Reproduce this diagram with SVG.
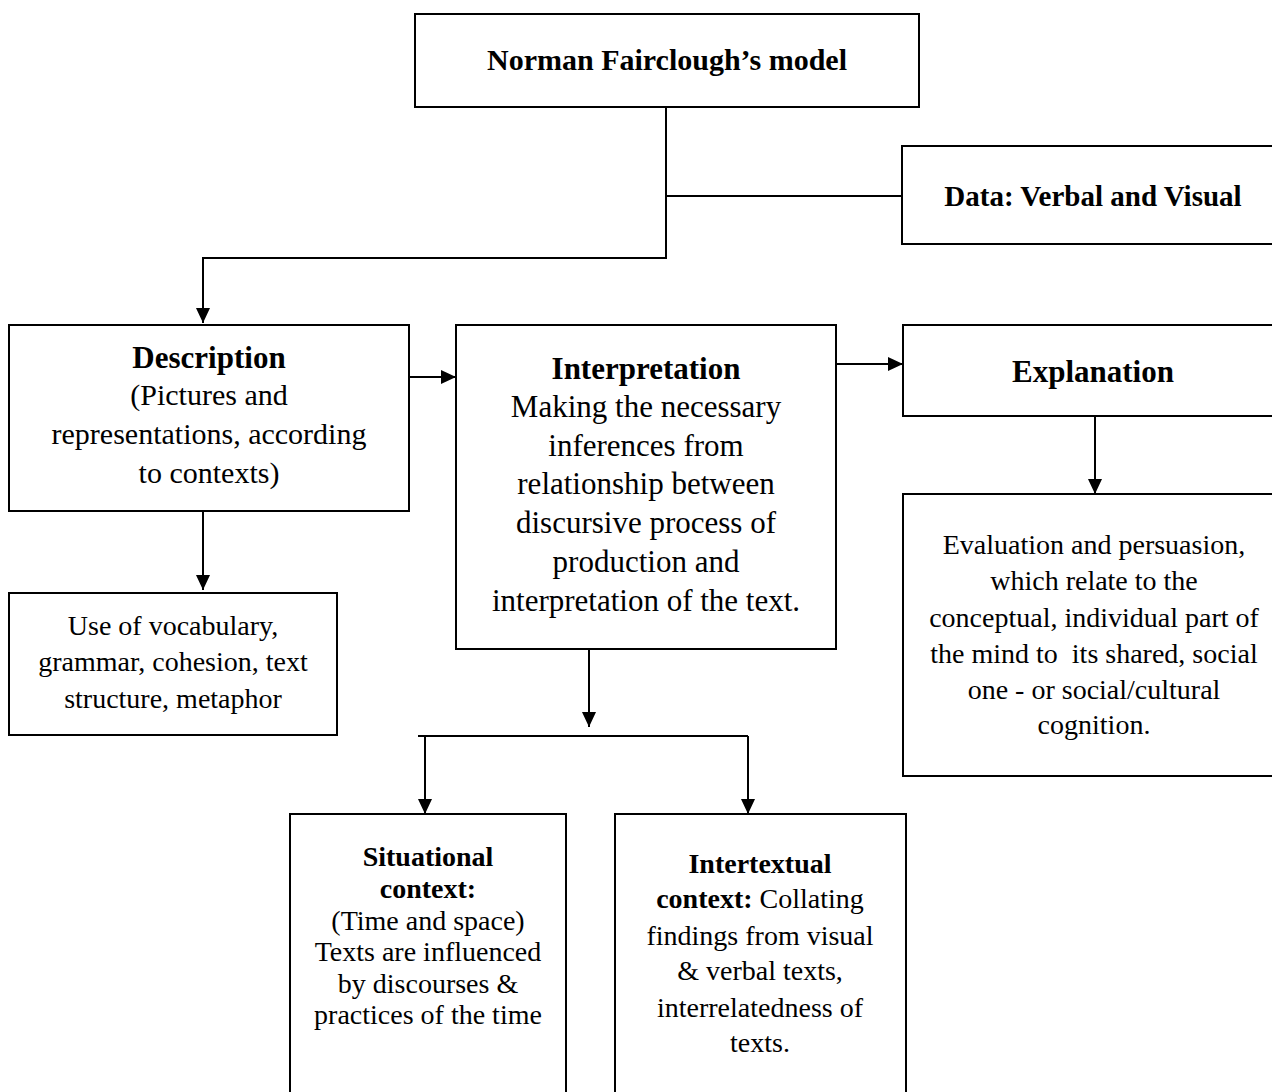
<svg xmlns="http://www.w3.org/2000/svg" width="1272" height="1092" viewBox="0 0 1272 1092">
<style>
.box{fill:#fff;stroke:#000;stroke-width:2}
.ln{fill:none;stroke:#000;stroke-width:2}
text{font-family:"Liberation Serif","Times New Roman",serif;fill:#000;text-anchor:middle}
.b{font-weight:bold}
.t30{font-size:30px}
.t31{font-size:31px}
.t28{font-size:28px}
</style>
<defs>
<marker id="ah" markerUnits="userSpaceOnUse" markerWidth="16" markerHeight="16" viewBox="0 0 16 16" refX="15" refY="8" orient="auto">
<path d="M0,1 L15,8 L0,15 Z" fill="#000"/>
</marker>
</defs>
<rect width="1272" height="1092" fill="#fff"/>
<g id="connectors">
<path class="ln" d="M666,107 V258 H203 V323" marker-end="url(#ah)"/>
<path class="ln" d="M666,196 H902"/>
<path class="ln" d="M409,377 H456" marker-end="url(#ah)"/>
<path class="ln" d="M836,364 H903" marker-end="url(#ah)"/>
<path class="ln" d="M203,511 V590" marker-end="url(#ah)"/>
<path class="ln" d="M1095,416 V494" marker-end="url(#ah)"/>
<path class="ln" d="M589,649 V727" marker-end="url(#ah)"/>
<path class="ln" d="M418,736 H748"/>
<path class="ln" d="M425,736 V814" marker-end="url(#ah)"/>
<path class="ln" d="M748,736 V814" marker-end="url(#ah)"/>
</g>
<g id="model">
<rect class="box" x="415" y="14" width="504" height="93"/>
<text class="b t30" x="667" y="70">Norman Fairclough’s model</text>
</g>
<g id="data">
<rect class="box" x="902" y="146" width="380" height="98"/>
<text class="b" style="font-size:29px" x="1093" y="206">Data: Verbal and Visual</text>
</g>
<g id="description">
<rect class="box" x="9" y="325" width="400" height="186"/>
<text class="b t31" x="209" y="368">Description</text>
<text class="t30" x="209" y="405">(Pictures and</text>
<text class="t30" x="209" y="444">representations, according</text>
<text class="t30" x="209" y="483">to contexts)</text>
</g>
<g id="interpretation">
<rect class="box" x="456" y="325" width="380" height="324"/>
<text class="b t31" x="646" y="379">Interpretation</text>
<text class="t31" x="646" y="417">Making the necessary</text>
<text class="t31" x="646" y="456">inferences from</text>
<text class="t31" x="646" y="494">relationship between</text>
<text class="t31" x="646" y="533">discursive process of</text>
<text class="t31" x="646" y="572">production and</text>
<text class="t31" x="646" y="611">interpretation of the text.</text>
</g>
<g id="explanation">
<rect class="box" x="903" y="325" width="380" height="91"/>
<text class="b t31" x="1093" y="382">Explanation</text>
</g>
<g id="vocabulary">
<rect class="box" x="9" y="593" width="328" height="142"/>
<text class="t28" x="173" y="635">Use of vocabulary,</text>
<text class="t28" x="173" y="671">grammar, cohesion, text</text>
<text class="t28" x="173" y="708">structure, metaphor</text>
</g>
<g id="evaluation">
<rect class="box" x="903" y="494" width="380" height="282"/>
<text class="t28" x="1094" y="554">Evaluation and persuasion,</text>
<text class="t28" x="1094" y="590">which relate to the</text>
<text class="t28" x="1094" y="627">conceptual, individual part of</text>
<text class="t28" x="1094" y="663" xml:space="preserve">the mind to  its shared, social</text>
<text class="t28" x="1094" y="699">one - or social/cultural</text>
<text class="t28" x="1094" y="734">cognition.</text>
</g>
<g id="situational">
<rect class="box" x="290" y="814" width="276" height="290"/>
<text class="b t28" x="428" y="866">Situational</text>
<text class="b t28" x="428" y="898">context:</text>
<text class="t28" x="428" y="930">(Time and space)</text>
<text class="t28" x="428" y="961">Texts are influenced</text>
<text class="t28" x="428" y="993">by discourses &amp;</text>
<text class="t28" x="428" y="1024">practices of the time</text>
</g>
<g id="intertextual">
<rect class="box" x="615" y="814" width="291" height="290"/>
<text class="b t28" x="760" y="873">Intertextual</text>
<text class="t28" x="760" y="908"><tspan class="b">context:</tspan> Collating</text>
<text class="t28" x="760" y="945">findings from visual</text>
<text class="t28" x="760" y="980">&amp; verbal texts,</text>
<text class="t28" x="760" y="1017">interrelatedness of</text>
<text class="t28" x="760" y="1052">texts.</text>
</g>
</svg>
